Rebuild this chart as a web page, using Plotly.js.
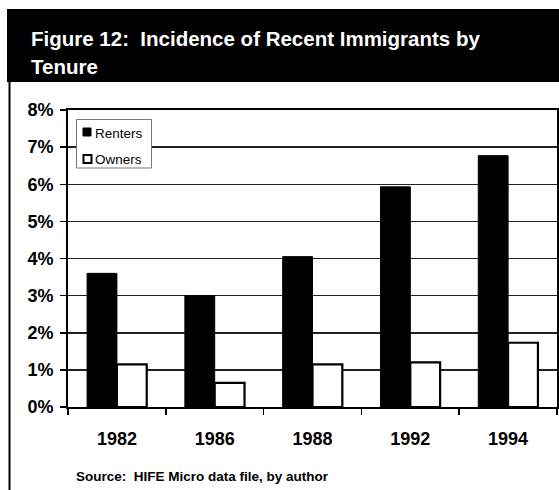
<!DOCTYPE html>
<html>
<head>
<meta charset="utf-8">
<script src="https://cdn.plot.ly/plotly-3.0.1.min.js"></script>
<style>
  html, body { margin: 0; padding: 0; background: #fff; }
  #chart { width: 559px; height: 490px; }
</style>
</head>
<body>
<div id="chart"></div>
<script>
// Survey years on the category axis
const years = ['1982', '1986', '1988', '1992', '1994'];
// Share of households that are recent immigrants, in percent
const renters = [3.6, 3.0, 4.05, 5.93, 6.77];
const owners = [1.15, 0.65, 1.15, 1.2, 1.73];
const seriesNames = ['Renters', 'Owners'];
const yTicks = [0, 1, 2, 3, 4, 5, 6, 7, 8];
const yTickLabels = ['0%', '1%', '2%', '3%', '4%', '5%', '6%', '7%', '8%'];

const titleLine1 = 'Figure 12:&nbsp; Incidence of Recent Immigrants by';
const titleLine2 = 'Tenure';
const sourceNote = 'Source:&nbsp; HIFE Micro data file, by author';

// Plot area geometry in pixels (used to place the surrounding frame in paper units)
const W = 559, H = 490;
const M = { l: 68, r: 2, t: 110, b: 83 };
const pw = W - M.l - M.r, ph = H - M.t - M.b;
const px = x => (x - M.l) / pw;
const py = y => (H - M.b - y) / ph;

const font = 'Arial, "Liberation Sans", Helvetica, sans-serif';

const traces = [
  {
    type: 'bar', name: seriesNames[0], x: years, y: renters,
    marker: { color: '#000', line: { color: '#000', width: 1 } },
    showlegend: false, hoverinfo: 'x+y'
  },
  {
    type: 'bar', name: seriesNames[1], x: years, y: owners,
    marker: { color: '#fff', line: { color: '#000', width: 2.2 } },
    showlegend: false, hoverinfo: 'x+y'
  }
];

const shapes = [
  // black heading band
  { type: 'rect', xref: 'paper', yref: 'paper', x0: px(7), x1: px(W + 2), y0: py(82), y1: py(9),
    fillcolor: '#000', line: { width: 0 }, layer: 'below' },
  // left frame rule
  { type: 'line', xref: 'paper', yref: 'paper', x0: px(9.5), x1: px(9.5), y0: py(82), y1: py(H + 2),
    line: { color: '#000', width: 2 } },
  // legend box
  { type: 'rect', xref: 'paper', yref: 'paper', x0: px(76.5), x1: px(151.5), y0: py(168), y1: py(119.5),
    fillcolor: '#fff', line: { color: '#777', width: 1 }, layer: 'above' },
  // legend swatches
  { type: 'rect', xref: 'paper', yref: 'paper', x0: px(83), x1: px(91), y0: py(136), y1: py(128),
    fillcolor: '#000', line: { color: '#000', width: 1 }, layer: 'above' },
  { type: 'rect', xref: 'paper', yref: 'paper', x0: px(83.5), x1: px(91.5), y0: py(163), y1: py(155),
    fillcolor: '#fff', line: { color: '#000', width: 2 }, layer: 'above' }
];

const annotations = [
  { xref: 'paper', yref: 'paper', x: px(29), y: py(38), xanchor: 'left', yanchor: 'middle',
    text: '<b>' + titleLine1 + '</b>', showarrow: false,
    font: { family: font, size: 20.5, color: '#fff' } },
  { xref: 'paper', yref: 'paper', x: px(29), y: py(66), xanchor: 'left', yanchor: 'middle',
    text: '<b>' + titleLine2 + '</b>', showarrow: false,
    font: { family: font, size: 20.5, color: '#fff' } },
  { xref: 'paper', yref: 'paper', x: px(93), y: py(133), xanchor: 'left', yanchor: 'middle',
    text: seriesNames[0], showarrow: false,
    font: { family: font, size: 13.5, color: '#000' } },
  { xref: 'paper', yref: 'paper', x: px(93), y: py(159), xanchor: 'left', yanchor: 'middle',
    text: seriesNames[1], showarrow: false,
    font: { family: font, size: 13.5, color: '#000' } },
  { xref: 'paper', yref: 'paper', x: px(74), y: py(476), xanchor: 'left', yanchor: 'middle',
    text: '<b>' + sourceNote + '</b>', showarrow: false,
    font: { family: font, size: 13.5, color: '#000' } }
];

const layout = {
  width: W, height: H,
  margin: M,
  paper_bgcolor: '#fff', plot_bgcolor: '#fff',
  font: { family: font, color: '#000' },
  barmode: 'group', bargap: 0.39, bargroupgap: 0,
  showlegend: false,
  xaxis: {
    type: 'category', categoryarray: years,
    tickson: 'boundaries', ticks: 'outside', ticklen: 6, tickwidth: 1.5, tickcolor: '#000',
    showline: true, linecolor: '#000', linewidth: 2, mirror: true,
    showgrid: false, zeroline: false,
    tickfont: { family: font, size: 18, color: '#000', weight: 'bold' },
    ticklabelstandoff: 14, fixedrange: true
  },
  xaxis2: {
    overlaying: 'x', anchor: 'y', range: [-0.5, 4.5],
    tickvals: [-0.5, 0.5, 1.5, 2.5, 3.5, 4.5],
    ticks: 'inside', ticklen: 5, tickwidth: 1.5, tickcolor: '#000',
    showticklabels: false, showgrid: false, zeroline: false, showline: false
  },
  yaxis: {
    range: [0, 8], tickmode: 'array', tickvals: yTicks, ticktext: yTickLabels,
    ticks: 'outside', ticklen: 6, tickwidth: 1.5, tickcolor: '#000',
    showline: true, linecolor: '#000', linewidth: 2, mirror: true,
    showgrid: true, gridcolor: '#222', gridwidth: 1.5, zeroline: false,
    tickfont: { family: font, size: 18, color: '#000', weight: 'bold' },
    ticklabelstandoff: 3, fixedrange: true
  },
  shapes: shapes,
  annotations: annotations
};

Plotly.newPlot('chart', traces, layout, { displayModeBar: false, staticPlot: true });
</script>
</body>
</html>
